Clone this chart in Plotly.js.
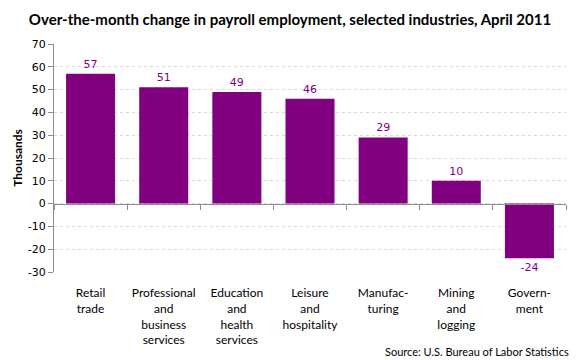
<!DOCTYPE html>
<html>
<head>
<meta charset="utf-8">
<script src="https://cdn.plot.ly/plotly-3.0.1.min.js"></script>
<style>html,body{margin:0;padding:0;background:#fff;}#chart{width:580px;height:360px;}</style>
</head>
<body>
<div id="chart"></div>
<script>
var categories = ["Retail trade", "Professional and business services", "Education and health services", "Leisure and hospitality", "Manufacturing", "Mining and logging", "Government"];
var tickLabels = ["Retail<br>trade", "Professional<br>and<br>business<br>services", "Education<br>and<br>health<br>services", "Leisure<br>and<br>hospitality", "Manufac-<br>turing", "Mining<br>and<br>logging", "Govern-<br>ment"];
var values = [57, 51, 49, 46, 29, 10, -24];
var yTickVals = [-30, -20, -10, 0, 10, 20, 30, 40, 50, 60, 70];
var yTickText = ["-30", "-20", "-10", "0", "10", "20", "30", "40", "50", "60", "70"];

var purple = "#800080";
var bars = {
  type: "bar",
  x: categories,
  y: values,
  text: values.map(String),
  textposition: "outside",
  cliponaxis: false,
  textfont: {family: "DejaVu Sans, Verdana, sans-serif", size: 11, color: purple},
  marker: {color: purple, line: {width: 0}},
  hoverinfo: "x+y",
  xaxis: "x",
  yaxis: "y"
};
var zeroAxisTrace = {
  type: "scatter",
  x: categories,
  y: values,
  mode: "none",
  hoverinfo: "skip",
  showlegend: false,
  xaxis: "x2",
  yaxis: "y"
};

var layout = {
  width: 580, height: 360,
  margin: {l: 54, r: 14, t: 44, b: 88},
  paper_bgcolor: "#fff", plot_bgcolor: "#fff",
  showlegend: false,
  bargap: 0.33,
  title: {
    text: "<b>Over-the-month change in payroll employment, selected industries, April 2011</b>",
    font: {family: "Lato, Carlito, sans-serif", size: 15, color: "#000"},
    x: 0.5, xanchor: "center", y: 0.945, yanchor: "middle"
  },
  xaxis: {
    type: "category",
    categoryorder: "array", categoryarray: categories,
    tickmode: "array", tickvals: categories, ticktext: tickLabels,
    range: [-0.5, 6.5],
    showline: false, showgrid: false, zeroline: false,
    ticks: "outside", ticklen: 10, tickcolor: "rgba(0,0,0,0)",
    tickfont: {family: "Lato, Carlito, sans-serif", size: 12, color: "#000"},
    fixedrange: true
  },
  xaxis2: {
    type: "category",
    overlaying: "x",
    anchor: "free",
    position: 0.3,
    side: "bottom",
    categoryorder: "array", categoryarray: categories,
    range: [-0.5, 6.5],
    showline: true, linecolor: "#8c8c8c", linewidth: 1,
    ticks: "outside", tickson: "boundaries", ticklen: 5, tickcolor: "#8c8c8c",
    showticklabels: false, showgrid: false, zeroline: false
  },
  yaxis: {
    range: [-30, 70],
    tickmode: "array", tickvals: yTickVals, ticktext: yTickText,
    showline: true, linecolor: "#8c8c8c", linewidth: 1,
    ticks: "outside", ticklen: 5, tickcolor: "#8c8c8c",
    showgrid: true, gridcolor: "#d9d9d9", griddash: "dot", gridwidth: 1,
    zeroline: false,
    tickfont: {family: "DejaVu Sans, Verdana, sans-serif", size: 11, color: "#000"},
    title: {text: "<b>Thousands</b>", font: {family: "Lato, Carlito, sans-serif", size: 12, color: "#000"}, standoff: 2}
  },
  annotations: [{
    text: "Source: U.S. Bureau of Labor Statistics",
    xref: "paper", yref: "paper",
    x: 1.01, xanchor: "right",
    y: -0.35, yanchor: "middle",
    showarrow: false,
    font: {family: "Lato, Carlito, sans-serif", size: 11, color: "#000"}
  }]
};

Plotly.newPlot("chart", [bars, zeroAxisTrace], layout, {displayModeBar: false, staticPlot: true});
</script>
</body>
</html>
